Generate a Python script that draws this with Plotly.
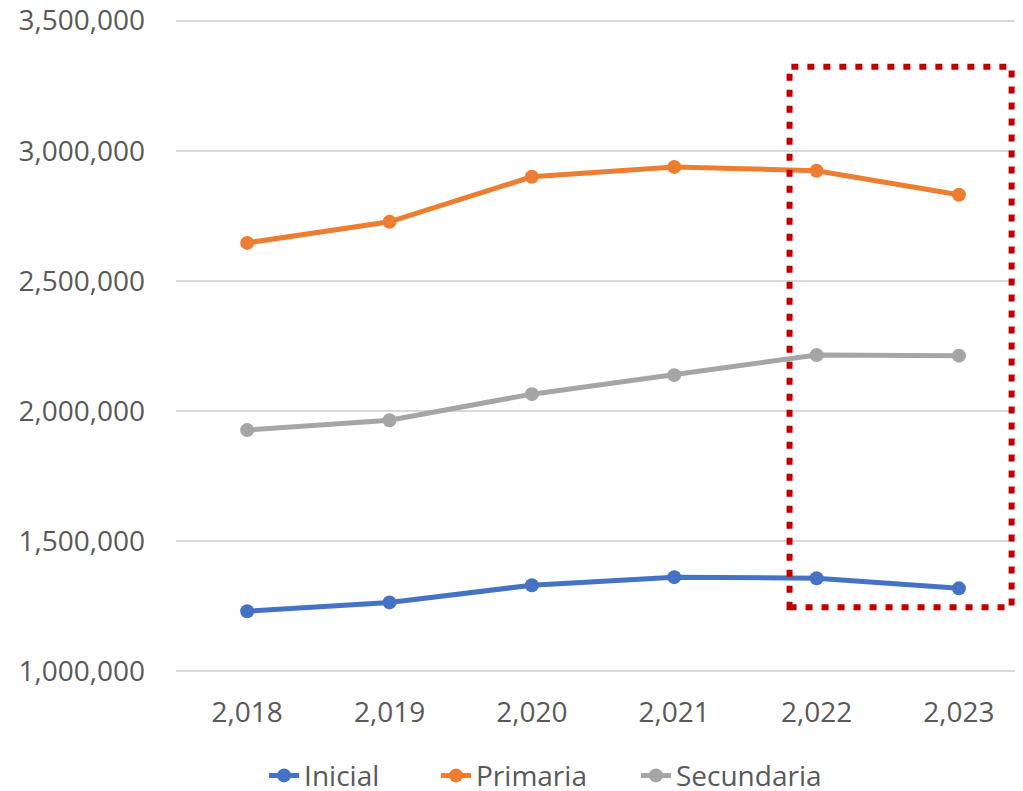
import plotly.graph_objects as go

years = ["2,018", "2,019", "2,020", "2,021", "2,022", "2,023"]
inicial = [1231000, 1265000, 1331000, 1362000, 1358000, 1319000]
primaria = [2646000, 2727000, 2900000, 2938000, 2923000, 2831000]
secundaria = [1927000, 1965000, 2065000, 2138000, 2215000, 2213000]

series = [("Inicial", inicial, "#4472C4", "legend", 0.104),
          ("Primaria", primaria, "#ED7D31", "legend2", 0.307),
          ("Secundaria", secundaria, "#A5A5A5", "legend3", 0.543)]

font = dict(family="Open Sans", size=28, color="#595959")

fig = go.Figure()
legends = {}
for name, vals, col, lg, lx in series:
    fig.add_trace(go.Scatter(x=years, y=vals, name=name, mode="lines+markers",
                             line=dict(color=col, width=5),
                             marker=dict(color=col, size=14), legend=lg))
    legends[lg] = dict(orientation="h", x=lx, xanchor="left", y=-0.155, yanchor="middle",
                       font=font, bgcolor="rgba(0,0,0,0)")

fig.add_shape(type="rect", xref="x", yref="y", x0=3.81, x1=5.37, y0=1246000, y1=3323000,
              line=dict(color="#C00000", width=6, dash="7px,9px"), fillcolor="rgba(0,0,0,0)")

pad = 10000  # small padding so the edge gridlines are drawn
fig.update_layout(
    width=1015, height=783,
    margin=dict(l=168, r=0, t=10.4, b=117.4, autoexpand=False),
    plot_bgcolor="white", paper_bgcolor="white",
    font=font,
    showlegend=True,
    xaxis=dict(type="category", range=[-0.5, 5.45], showgrid=False, showline=False,
               ticks="", ticklabelstandoff=19, tickfont=font),
    yaxis=dict(range=[1000000 - pad, 3500000 + pad],
               tickvals=[1000000, 1500000, 2000000, 2500000, 3000000, 3500000],
               tickformat=",", ticklabeloverflow="allow",
               showgrid=True, gridcolor="#D9D9D9", gridwidth=1.5, zeroline=False,
               showline=False, ticks="", ticklabelstandoff=30, tickfont=font),
    **legends,
)

fig.write_html("out.html")
